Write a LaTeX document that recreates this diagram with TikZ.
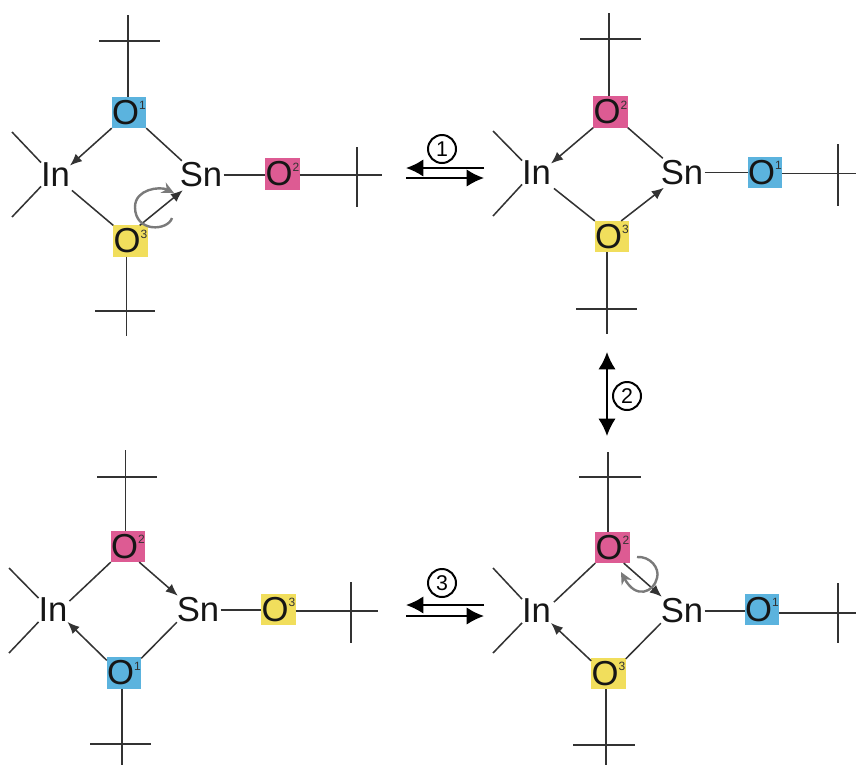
\documentclass[tikz,border=0pt]{standalone}
\usepackage{fontspec}
\setmainfont{Liberation Sans}
\usetikzlibrary{arrows.meta}
\definecolor{oblue}{HTML}{5BB3DE}
\definecolor{oyellow}{HTML}{F1DE5C}
\definecolor{opink}{HTML}{DD5B93}
\definecolor{bondcol}{HTML}{333333}
\definecolor{txtcol}{HTML}{161616}
\definecolor{curvecol}{HTML}{7A7A7A}
\newcommand{\Oxy}[1]{O\raisebox{11pt}{\fontsize{9}{9}\selectfont\color{bondcol}#1}}
\tikzset{
  atom/.style={inner sep=0pt,outer sep=0pt,text=txtcol,font=\fontsize{26}{26}\selectfont},
  obox/.style={atom,fill=#1,minimum width=25.8pt,minimum height=23.4pt},
  bond/.style={draw=bondcol,line width=1.15pt},
  dative/.style={bond,-{Latex[length=9pt,width=7.5pt]}},
  curly/.style={draw=curvecol,line width=1.8pt,-{Stealth[length=9pt,width=8.5pt]}},
  react/.style={draw=black,line width=1.4pt},
  bigtip/.style={-{Latex[length=13pt,width=13pt]}},
  both/.style={{Latex[length=13pt,width=13pt]}-{Latex[length=13pt,width=13pt]}},
  stepno/.style={circle,draw=black,line width=1.5pt,inner sep=0pt,minimum size=21pt,font=\fontsize{16}{16}\selectfont}
}
\begin{document}
\begin{tikzpicture}[x=0.75pt,y=-0.75pt]
\useasboundingbox (0,0) rectangle (856,765);
% ---------- molecule A, top left
\node[obox=oblue] (a1) at (129,112.5) {\Oxy{1}};
\node[obox=oyellow] (a3) at (130.5,241) {\Oxy{3}};
\node[obox=opink] (a2) at (282.5,174) {\Oxy{2}};
\node[atom] (ain) at (55.5,174.5) {In};
\node[atom] (asn) at (201,175) {Sn};
\coordinate (at) at (128,15);
\coordinate (ab) at (126.5,336);
\coordinate (ar) at (382,175);
\coordinate (am1) at (12,132);
\coordinate (am2) at (12,217);
\draw[bond] (a1.north -| at) -- (at);
\draw[bond] (a3.south -| ab) -- (ab);
\draw[bond] (a2.east |- ar) -- (ar);
\draw[bond] (99,41) -- (160,41);
\draw[bond] (95,311) -- (155,311);
\draw[bond] (357,147) -- (357,207);
\draw[bond] (am1) -- (ain.north west);
\draw[bond] (am2) -- (ain.south west);
\draw[dative] (a1.south west) -- ([shift={(0,3)}]ain.north east);
\draw[bond] (a1.south east) -- ([shift={(2,-2)}]asn.north west);
\draw[bond] ([shift={(2,4)}]ain.south east) -- (a3.north west);
\draw[dative] ([shift={(-8,0)}]a3.north east) -- ([shift={(3,3)}]asn.south west);
\draw[bond] ([xshift=1pt]asn.east) -- (asn.east -| a2.west);
\draw[curly] (172,218) .. controls (168,231) and (135,233) .. (135,207) .. controls (135,189) and (160,186) .. (174,193);
% ---------- molecule B, top right
\node[obox=opink] (b2) at (610.5,112) {\Oxy{2}};
\node[obox=oyellow] (b3) at (612,236.5) {\Oxy{3}};
\node[obox=oblue] (b1) at (765,172.5) {\Oxy{1}};
\node[atom] (bin) at (536.5,172.5) {In};
\node[atom] (bsn) at (682,172.5) {Sn};
\coordinate (bt) at (609,13);
\coordinate (bb) at (607,334);
\coordinate (br) at (856,173.5);
\coordinate (bm1) at (493,131);
\coordinate (bm2) at (493,216);
\draw[bond] (b2.north -| bt) -- (bt);
\draw[bond] (b3.south -| bb) -- (bb);
\draw[bond] (b1.east |- br) -- (br);
\draw[bond] (580,39) -- (641,39);
\draw[bond] (576,309) -- (637,309);
\draw[bond] (838,144) -- (838,206);
\draw[bond] (bm1) -- (bin.north west);
\draw[bond] (bm2) -- (bin.south west);
\draw[dative] (b2.south west) -- ([shift={(0,3)}]bin.north east);
\draw[bond] (b2.south east) -- ([shift={(2,-2)}]bsn.north west);
\draw[bond] ([shift={(3,4)}]bin.south east) -- (b3.north west);
\draw[dative] ([shift={(-8,0)}]b3.north east) -- ([shift={(3,3)}]bsn.south west);
\draw[bond] ([xshift=1pt]bsn.east) -- (bsn.east -| b1.west);
% ---------- molecule C, bottom left
\node[obox=opink] (c2) at (128,546.5) {\Oxy{2}};
\node[obox=oblue] (c1) at (124,673) {\Oxy{1}};
\node[obox=oyellow] (c3) at (278.5,609.5) {\Oxy{3}};
\node[atom] (cin) at (53,610) {In};
\node[atom] (csn) at (198,610) {Sn};
\coordinate (ct) at (125.5,450);
\coordinate (cb) at (122,765);
\coordinate (cr) at (378,611);
\coordinate (cm1) at (9,568);
\coordinate (cm2) at (9,653);
\draw[bond] (c2.north -| ct) -- (ct);
\draw[bond] (c1.south -| cb) -- (cb);
\draw[bond] (c3.east |- cr) -- (cr);
\draw[bond] (97,477) -- (157,477);
\draw[bond] (90,744) -- (151,744);
\draw[bond] (351,582) -- (351,643);
\draw[bond] (cm1) -- (cin.north west);
\draw[bond] (cm2) -- (cin.south west);
\draw[bond] (c2.south west) -- ([shift={(2,3)}]cin.north east);
\draw[dative] ([shift={(-6,0)}]c2.south east) -- ([shift={(1,-2)}]csn.north west);
\draw[bond] (csn.south west) -- ([shift={(0,1)}]c1.north east);
\draw[dative] ([shift={(0,3)}]c1.north west) -- (cin.south east);
\draw[bond] ([xshift=1pt]csn.east) -- (csn.east -| c3.west);
% ---------- molecule D, bottom right
\node[obox=opink] (d2) at (612.5,547.5) {\Oxy{2}};
\node[obox=oyellow] (d3) at (608.5,673.5) {\Oxy{3}};
\node[obox=oblue] (d1) at (762,609.5) {\Oxy{1}};
\node[atom] (din) at (536.5,611) {In};
\node[atom] (dsn) at (682,611) {Sn};
\coordinate (dt) at (608,452);
\coordinate (db) at (606,765);
\coordinate (dr) at (856,613);
\coordinate (dm1) at (493,568);
\coordinate (dm2) at (493,653);
\draw[bond] (d2.north -| dt) -- (dt);
\draw[bond] (d3.south -| db) -- (db);
\draw[bond] (d1.east |- dr) -- (dr);
\draw[bond] (579,477) -- (641,477);
\draw[bond] (573,745) -- (635,745);
\draw[bond] (838,583) -- (838,643);
\draw[bond] (dm1) -- (din.north west);
\draw[bond] (dm2) -- (din.south west);
\draw[bond] (d2.south west) -- ([shift={(3,3)}]din.north east);
\draw[dative] ([shift={(-6,0)}]d2.south east) -- ([shift={(1,-2)}]dsn.north west);
\draw[bond] (dsn.south west) -- ([shift={(0,1)}]d3.north east);
\draw[dative] ([shift={(0,3)}]d3.north west) -- (din.south east);
\draw[bond] ([xshift=1pt]dsn.east) -- (dsn.east -| d1.west);
\draw[curly] (637,557) .. controls (650,556) and (660,568) .. (657,578) .. controls (654,592) and (636,600) .. (621,572);
% ---------- equilibrium 1
\node[stepno] (n1) at (442,149) {1};
\coordinate (e1a) at (484,168);
\coordinate (e1b) at (406,168);
\coordinate (e1c) at (406,178);
\coordinate (e1d) at (484,178);
\draw[react,bigtip] (e1a) -- (e1b);
\draw[react,bigtip] (e1c) -- (e1d);
% ---------- equilibrium 2
\node[stepno] (n2) at (627,396) {2};
\coordinate (e2a) at (607,352);
\coordinate (e2b) at (607,436);
\draw[react,both] (e2a) -- (e2b);
% ---------- equilibrium 3
\node[stepno] (n3) at (442,583) {3};
\coordinate (e3a) at (484,605);
\coordinate (e3b) at (406,605);
\coordinate (e3c) at (406,616);
\coordinate (e3d) at (484,616);
\draw[react,bigtip] (e3a) -- (e3b);
\draw[react,bigtip] (e3c) -- (e3d);
\end{tikzpicture}
\end{document}
